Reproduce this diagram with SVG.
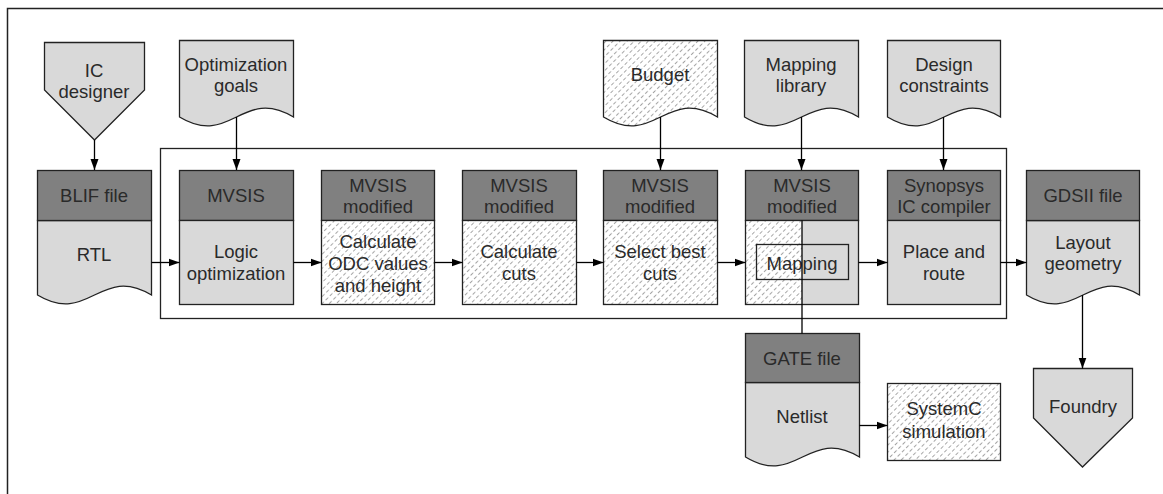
<svg xmlns="http://www.w3.org/2000/svg" width="1163" height="494" viewBox="0 0 1163 494">
<style>
.t{font-family:"Liberation Sans",Arial,sans-serif;font-size:18.5px;fill:#2a2a2a;text-anchor:middle}
.hd{fill:#808080;stroke:#222;stroke-width:1.3}
.bd{fill:#d9d9d9;stroke:#222;stroke-width:1.3}
.ht{fill:url(#hatch);stroke:#222;stroke-width:1.3}
.nf{fill:none;stroke:#222;stroke-width:1.3}
.c{fill:none;stroke:#000;stroke-width:1.3}
.a{marker-end:url(#arr)}
</style>
<defs>
<pattern id="hatch" patternUnits="userSpaceOnUse" width="6" height="5" patternTransform="rotate(-45)">
<rect width="6" height="5" fill="#fff"/>
<line x1="0" y1="2.5" x2="6" y2="2.5" stroke="#a5a5a5" stroke-width="1" stroke-dasharray="3.5 2.5"/>
</pattern>
<marker id="arr" markerWidth="12" markerHeight="10" refX="11" refY="5" orient="auto" markerUnits="userSpaceOnUse">
<path d="M0,1 L11,5 L0,9 Z" fill="#000"/>
</marker>
</defs>
<rect x="7.5" y="8.5" width="1170" height="500" fill="#fff" stroke="#222" stroke-width="1.5"/>
<rect id="process-frame" x="160.5" y="148.5" width="846" height="170" fill="none" stroke="#222" stroke-width="1.3"/>

<g id="ic-designer">
<polygon class="bd" points="44.5,42.5 144.5,42.5 144.5,90 94.5,140 44.5,90"/>
<text class="t" x="94" y="77">IC</text>
<text class="t" x="94" y="98">designer</text>
</g>
<g id="optimization-goals">
<path class="bd" d="M179.5,40.5 H293.5 V117 C242.2,86 230.8,148 179.5,117 Z"/>
<text class="t" x="236" y="71">Optimization</text>
<text class="t" x="236" y="92">goals</text>
</g>
<g id="budget">
<path class="ht" d="M603.5,40.5 H717.5 V117 C666.2,86 654.8,148 603.5,117 Z"/>
<text class="t" x="660" y="81">Budget</text>
</g>
<g id="mapping-library">
<path class="bd" d="M744.5,40.5 H858.5 V117 C807.2,86 795.8,148 744.5,117 Z"/>
<text class="t" x="801" y="71">Mapping</text>
<text class="t" x="801" y="92">library</text>
</g>
<g id="design-constraints">
<path class="bd" d="M887.5,40.5 H1000.5 V117 C949.65,86 938.35,148 887.5,117 Z"/>
<text class="t" x="944" y="71">Design</text>
<text class="t" x="944" y="92">constraints</text>
</g>

<g id="blif-file">
<path class="bd" d="M37.5,220.5 H151.5 V295 C100.2,264 88.8,326 37.5,295 Z"/>
<rect class="hd" x="37.5" y="170.5" width="114" height="50"/>
<text class="t" x="94" y="202">BLIF file</text>
<text class="t" x="94" y="261">RTL</text>
</g>
<g id="mvsis">
<rect class="hd" x="179.5" y="170.5" width="114" height="50"/>
<rect class="bd" x="179.5" y="220.5" width="114" height="84"/>
<text class="t" x="236" y="202">MVSIS</text>
<text class="t" x="236" y="258">Logic</text>
<text class="t" x="236" y="280">optimization</text>
</g>
<g id="mvsis-odc">
<rect class="hd" x="321.5" y="170.5" width="113" height="50"/>
<rect class="ht" x="321.5" y="220.5" width="113" height="84"/>
<text class="t" x="378" y="192">MVSIS</text>
<text class="t" x="378" y="213">modified</text>
<text class="t" x="378" y="248">Calculate</text>
<text class="t" x="378" y="270">ODC values</text>
<text class="t" x="378" y="292">and height</text>
</g>
<g id="mvsis-cuts">
<rect class="hd" x="462.5" y="170.5" width="114" height="50"/>
<rect class="ht" x="462.5" y="220.5" width="114" height="84"/>
<text class="t" x="519" y="192">MVSIS</text>
<text class="t" x="519" y="213">modified</text>
<text class="t" x="519" y="258">Calculate</text>
<text class="t" x="519" y="280">cuts</text>
</g>
<g id="mvsis-select">
<rect class="hd" x="603.5" y="170.5" width="114" height="50"/>
<rect class="ht" x="603.5" y="220.5" width="114" height="84"/>
<text class="t" x="660" y="192">MVSIS</text>
<text class="t" x="660" y="213">modified</text>
<text class="t" x="660" y="258">Select best</text>
<text class="t" x="660" y="280">cuts</text>
</g>
<g id="mvsis-mapping">
<rect class="hd" x="745.5" y="170.5" width="113" height="50"/>
<rect x="745.5" y="220.5" width="56.5" height="84" fill="url(#hatch)"/>
<rect x="802" y="220.5" width="56.5" height="84" fill="#d9d9d9"/>
<rect class="nf" x="745.5" y="220.5" width="113" height="84"/>
<rect class="nf" x="756.5" y="244.5" width="92" height="35"/>
<text class="t" x="802" y="192">MVSIS</text>
<text class="t" x="802" y="213">modified</text>
<text class="t" x="802" y="270">Mapping</text>
</g>
<g id="synopsys">
<rect class="hd" x="887.5" y="170.5" width="113" height="50"/>
<rect class="bd" x="887.5" y="220.5" width="113" height="84"/>
<text class="t" x="944" y="192">Synopsys</text>
<text class="t" x="944" y="213">IC compiler</text>
<text class="t" x="944" y="258">Place and</text>
<text class="t" x="944" y="280">route</text>
</g>
<g id="gdsii-file">
<path class="bd" d="M1026.5,220.5 H1139.5 V295 C1088.65,264 1077.35,326 1026.5,295 Z"/>
<rect class="hd" x="1026.5" y="170.5" width="113" height="50"/>
<text class="t" x="1083" y="202">GDSII file</text>
<text class="t" x="1083" y="249">Layout</text>
<text class="t" x="1083" y="270">geometry</text>
</g>
<g id="gate-file">
<path class="bd" d="M745.5,382.5 H859.5 V457 C808.2,426 796.8,488 745.5,457 Z"/>
<rect class="hd" x="745.5" y="333.5" width="114" height="49"/>
<text class="t" x="802" y="365">GATE file</text>
<text class="t" x="802" y="423">Netlist</text>
</g>
<g id="systemc">
<rect class="ht" x="887.5" y="383.5" width="113" height="77"/>
<text class="t" x="944" y="415">SystemC</text>
<text class="t" x="944" y="438">simulation</text>
</g>
<g id="foundry">
<polygon class="bd" points="1033.5,368.5 1132.5,368.5 1132.5,418 1082.5,467 1033.5,418"/>
<text class="t" x="1083" y="413">Foundry</text>
</g>

<g id="connectors">
<line class="c a" x1="94.5" y1="140" x2="94.5" y2="170"/>
<line class="c a" x1="236.5" y1="117" x2="236.5" y2="170"/>
<line class="c a" x1="660.5" y1="117" x2="660.5" y2="170"/>
<line class="c a" x1="801.5" y1="117" x2="801.5" y2="170"/>
<line class="c a" x1="943.5" y1="117" x2="943.5" y2="170"/>
<line class="c a" x1="151.5" y1="262.5" x2="179.5" y2="262.5"/>
<line class="c a" x1="293.5" y1="262.5" x2="321.5" y2="262.5"/>
<line class="c a" x1="434.5" y1="262.5" x2="462.5" y2="262.5"/>
<line class="c a" x1="576.5" y1="262.5" x2="603.5" y2="262.5"/>
<line class="c a" x1="717.5" y1="262.5" x2="745.5" y2="262.5"/>
<line class="c a" x1="858.5" y1="262.5" x2="887.5" y2="262.5"/>
<line class="c a" x1="1000.5" y1="262.5" x2="1026.5" y2="262.5"/>
<line class="c" x1="802" y1="220.5" x2="802" y2="333.5"/>
<line class="c a" x1="1082.5" y1="295" x2="1082.5" y2="368.5"/>
<line class="c a" x1="859.5" y1="425.5" x2="887.5" y2="425.5"/>
</g>
</svg>
